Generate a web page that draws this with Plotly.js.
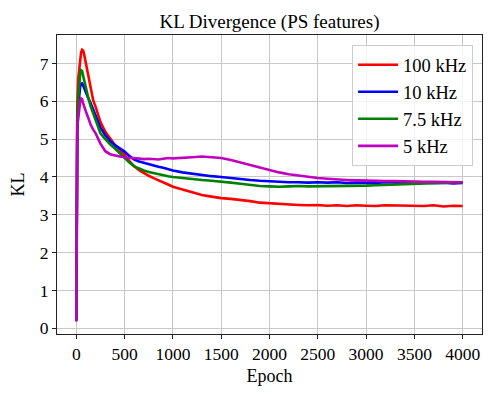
<!DOCTYPE html>
<html>
<head>
<meta charset="utf-8">
<script src="https://cdn.plot.ly/plotly-3.0.1.min.js"></script>
<style>
  body { margin: 0; background: #fff; }
  #chart { width: 498px; height: 399px; }
</style>
</head>
<body>
<div id="chart"></div>
<script>
var epochs = [0, 10, 20, 30, 40, 50, 60, 70, 80, 90, 100, 125, 150, 175, 200,
  250, 300, 350, 400, 450, 500, 550, 600, 650, 700, 750, 800, 850, 900, 950, 1000,
  1100, 1200, 1300, 1400, 1500, 1600, 1700, 1800, 1900, 2000,
  2100, 2200, 2300, 2400, 2500, 2600, 2700, 2800, 2900, 3000,
  3100, 3200, 3300, 3400, 3500, 3600, 3700, 3800, 3900, 4000];

var kl100k = [0.22, 5.9, 6.6, 6.9, 7.15, 7.3, 7.36, 7.34, 7.25, 7.12, 6.98, 6.6, 6.25, 6.02, 5.85,
  5.45, 5.19, 5.0, 4.84, 4.7, 4.58, 4.42, 4.28, 4.18, 4.1, 4.03, 3.97, 3.92, 3.85, 3.8, 3.74,
  3.66, 3.58, 3.52, 3.48, 3.44, 3.42, 3.4, 3.36, 3.32, 3.3,
  3.28, 3.27, 3.26, 3.25, 3.26, 3.24, 3.25, 3.23, 3.25, 3.24,
  3.23, 3.25, 3.24, 3.23, 3.24, 3.23, 3.25, 3.22, 3.24, 3.23];

var kl10k = [0.2, 5.2, 5.9, 6.2, 6.38, 6.46, 6.47, 6.42, 6.35, 6.28, 6.22, 6.07, 5.94, 5.78, 5.63,
  5.3, 5.1, 4.95, 4.84, 4.75, 4.67, 4.55, 4.46, 4.41, 4.37, 4.33, 4.3, 4.27, 4.24, 4.2, 4.17,
  4.12, 4.08, 4.05, 4.02, 4.0, 3.97, 3.94, 3.92, 3.9, 3.88,
  3.87, 3.86, 3.86, 3.85, 3.86, 3.85, 3.86, 3.84, 3.85, 3.85,
  3.84, 3.86, 3.85, 3.84, 3.86, 3.85, 3.84, 3.85, 3.83, 3.84];

var kl7k5 = [0.21, 5.4, 6.1, 6.5, 6.72, 6.82, 6.8, 6.68, 6.56, 6.45, 6.36, 6.08, 5.85, 5.66, 5.5,
  5.15, 5.0, 4.86, 4.75, 4.62, 4.5, 4.38, 4.28, 4.22, 4.17, 4.13, 4.1, 4.07, 4.05, 4.02, 4.0,
  3.97, 3.94, 3.92, 3.9, 3.88, 3.85, 3.82, 3.79, 3.76, 3.75,
  3.74, 3.75, 3.76, 3.75, 3.75, 3.76, 3.76, 3.77, 3.76, 3.77,
  3.78, 3.79, 3.8, 3.81, 3.82, 3.83, 3.84, 3.85, 3.85, 3.86];

var kl5k = [0.18, 5.35, 5.55, 5.85, 6.0, 6.07, 6.05, 5.95, 5.85, 5.78, 5.72, 5.55, 5.37, 5.25, 5.15,
  4.88, 4.68, 4.6, 4.56, 4.54, 4.52, 4.5, 4.5, 4.48, 4.47, 4.48, 4.47, 4.46, 4.48, 4.5, 4.49,
  4.5, 4.52, 4.54, 4.52, 4.5, 4.45, 4.38, 4.31, 4.24, 4.18,
  4.12, 4.07, 4.03, 3.99, 3.97, 3.95, 3.93, 3.92, 3.91, 3.9,
  3.9, 3.89, 3.89, 3.88, 3.88, 3.87, 3.87, 3.87, 3.86, 3.86];

var names = ['100 kHz', '10 kHz', '7.5 kHz', '5 kHz'];
var colors = ['#ff0000', '#0000ff', '#008000', '#bf00bf'];
var series = [kl100k, kl10k, kl7k5, kl5k];
var xTicks = [0, 500, 1000, 1500, 2000, 2500, 3000, 3500, 4000];
var yTicks = [0, 1, 2, 3, 4, 5, 6, 7];

var font = 'Liberation Serif';

var data = series.map(function(s, i) {
  return {
    x: epochs,
    y: s,
    name: names[i],
    legendgroup: 'g' + i,
    type: 'scatter',
    mode: 'lines',
    line: {color: colors[i], width: 2.6}
  };
});

function axisStyle() {
  return {
    showline: true,
    linecolor: '#222',
    linewidth: 1,
    mirror: true,
    ticks: 'outside',
    ticklen: 4,
    tickcolor: '#222',
    showgrid: true,
    gridcolor: '#c8c8c8',
    gridwidth: 1,
    zeroline: false,
    tickfont: {family: font, size: 17.5, color: '#000'}
  };
}

var layout = {
  width: 498,
  height: 399,
  margin: {l: 57, r: 16, t: 35, b: 65},
  paper_bgcolor: '#fff',
  plot_bgcolor: '#fff',
  font: {family: font, size: 17.5, color: '#000'},
  title: {
    text: 'KL Divergence (PS features)',
    font: {family: font, size: 19, color: '#000'},
    xref: 'paper', x: 0.5, xanchor: 'center',
    yref: 'container', y: 0.947, yanchor: 'middle'
  },
  xaxis: Object.assign(axisStyle(), {
    range: [-200, 4200],
    tickvals: xTicks,
    title: {text: 'Epoch', font: {family: font, size: 18, color: '#000'}, standoff: 6}
  }),
  yaxis: Object.assign(axisStyle(), {
    range: [-0.15, 7.75],
    tickvals: yTicks,
    title: {text: 'KL', font: {family: font, size: 18, color: '#000'}, standoff: 10}
  }),
  showlegend: true,
  legend: {
    x: 0.979, xanchor: 'right',
    y: 0.966, yanchor: 'top',
    bgcolor: 'rgba(255,255,255,0.8)',
    bordercolor: '#cccccc',
    borderwidth: 1,
    traceorder: 'grouped',
    tracegroupgap: 0,
    itemwidth: 40,
    entrywidth: 128,
    font: {family: font, size: 18.5, color: '#000'}
  }
};

Plotly.newPlot('chart', data, layout, {displayModeBar: false, staticPlot: true});
</script>
</body>
</html>
